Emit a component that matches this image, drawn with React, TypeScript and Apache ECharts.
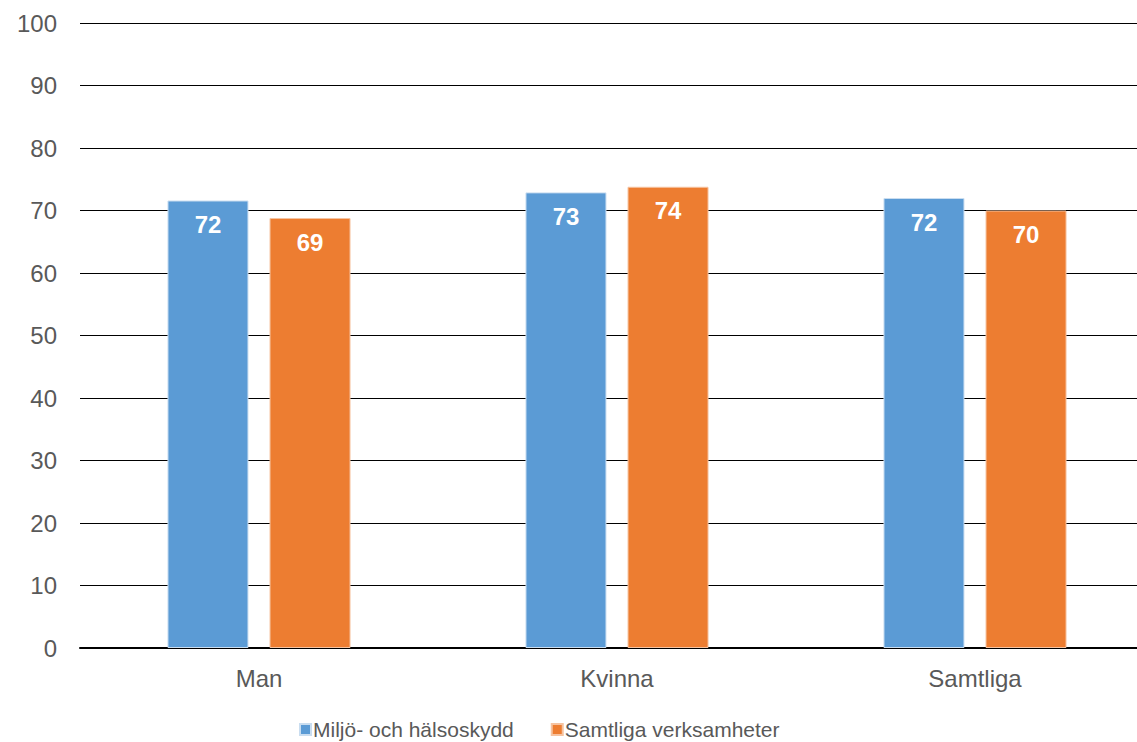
import React, { useEffect, useRef } from "react";
import * as echarts from "echarts";

const categories = ["Man", "Kvinna", "Samtliga"];
const seriesNames = ["Miljö- och hälsoskydd", "Samtliga verksamheter"];
const miljoValues = [71.6, 72.9, 72.0];
const samtligaValues = [68.8, 73.8, 70.0];
const colors = ["#5B9BD5", "#ED7D31"];

export default function App() {
  const ref = useRef<HTMLDivElement>(null);
  useEffect(() => {
    const chart = echarts.init(ref.current!, null, { renderer: "svg" });
    const font = "'Liberation Sans', Arial, sans-serif";
    const label = {
      show: true,
      position: "insideTop",
      distance: 12,
      color: "#fff",
      fontWeight: "bold",
      fontSize: 24,
      fontFamily: font,
      formatter: (p: any) => String(Math.round(p.value)),
    };
    chart.setOption({
      animation: false,
      textStyle: { fontFamily: font },
      grid: { left: 80, right: 0, top: 23, bottom: 94, containLabel: false },
      legend: {
        left: 294,
        top: 714,
        itemWidth: 11,
        itemHeight: 11,
        itemGap: 37,
        icon: "rect",
        textStyle: { color: "#595959", fontSize: 21, fontFamily: font, padding: [0, 0, 0, -3] },
        data: seriesNames,
      },
      xAxis: {
        type: "category",
        data: categories,
        axisLine: { lineStyle: { color: "#000", width: 2 } },
        axisTick: { show: false },
        axisLabel: { color: "#595959", fontSize: 24, margin: 18, fontFamily: font },
      },
      yAxis: {
        type: "value",
        min: 0,
        max: 100,
        interval: 10,
        axisLine: { show: false },
        axisTick: { show: false },
        axisLabel: { color: "#595959", fontSize: 24, margin: 23, fontFamily: font },
        splitLine: { lineStyle: { color: "#000", width: 1 } },
      },
      series: [
        {
          name: seriesNames[0],
          type: "bar",
          data: miljoValues,
          barWidth: 81,
          barGap: "26%",
          itemStyle: { color: colors[0], borderColor: "#c9ddf0", borderWidth: 1 },
          label,
        },
        {
          name: seriesNames[1],
          type: "bar",
          data: samtligaValues,
          barWidth: 81,
          barGap: "26%",
          itemStyle: { color: colors[1], borderColor: "#f6c3a0", borderWidth: 1 },
          label,
        },
      ],
    });
    return () => chart.dispose();
  }, []);
  return (
    <div
      ref={ref}
      style={{ position: "fixed", left: 0, top: 0, width: 1154, height: 742, background: "#fff" }}
    />
  );
}
